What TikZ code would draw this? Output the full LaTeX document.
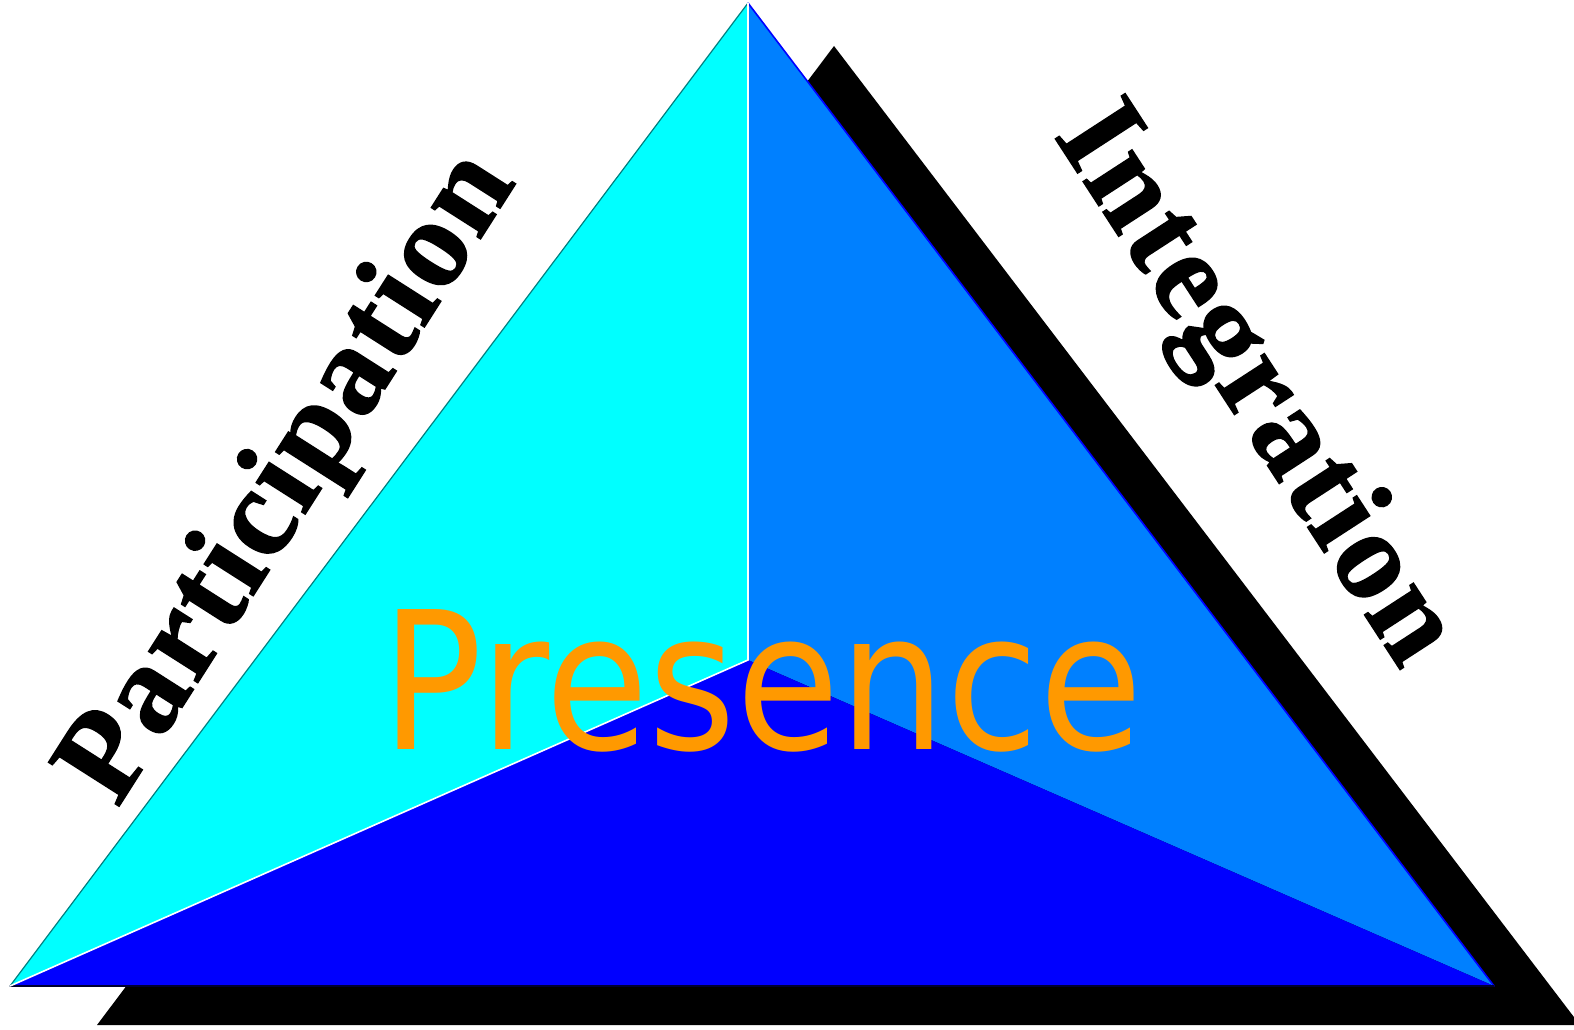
\documentclass[tikz,border=0pt]{standalone}
\usepackage{fontspec}
\setmainfont{Liberation Serif}
\newfontfamily\sidefont{Liberation Serif}[BoldFont={Liberation Serif Bold}, BoldFeatures={FakeBold=1.1, LetterSpace=2}]
\newfontfamily\presfont{DejaVu Sans}

\definecolor{facecyan}{RGB}{0,255,255}
\definecolor{faceazure}{RGB}{0,128,255}
\definecolor{faceblue}{RGB}{0,0,255}
\definecolor{edgeteal}{RGB}{0,128,128}
\definecolor{presorange}{RGB}{255,153,0}

\begin{document}
\begin{tikzpicture}[x=1pt, y=-1pt,
  face/.style={draw=none},
  edge/.style={line width=1.6pt, line cap=round},
  sidelbl/.style={font=\sidefont\bfseries\fontsize{127}{127}\selectfont, inner sep=0pt},
  mainlbl/.style={font=\fontsize{192}{192}\selectfont\presfont, text=presorange,
                  inner sep=0pt, xscale=0.876, transform shape}]

  \useasboundingbox (0,0) rectangle (1574,1030);

  % corners of the pyramid and of its shadow
  \coordinate (apex) at (748,3);
  \coordinate (left) at (10,986);
  \coordinate (right) at (1494,986);
  \coordinate (mid) at (748,660);
  \coordinate (sapex) at (834,46);
  \coordinate (sleft) at (97,1025);
  \coordinate (sright) at (1580,1025);

  % shadow
  \fill[black] (sapex) -- (sleft) -- (sright) -- cycle;

  % the three faces
  \fill[face, facecyan] (apex) -- (left) -- (mid) -- cycle;
  \fill[face, faceazure] (apex) -- (mid) -- (right) -- cycle;
  \fill[face, faceblue] (left) -- (right) -- (mid) -- cycle;

  % edges
  \draw[edge, edgeteal, line width=1.2pt] (apex) -- (left);
  \draw[edge, faceblue] (apex) -- (right);
  \draw[edge, black!80!blue, line width=1.2pt] (left) -- (right);
  \draw[edge, white] (apex) -- (mid);
  \draw[edge, white] (mid) -- (left);

  % labels
  \node[sidelbl, rotate=57.5] (part) at (292,478) {\textbf{Participation}};
  \node[sidelbl, rotate=-57] (integ) at (1253,388) {\textbf{Integration}};
  \node[mainlbl, anchor=base] (pres) at (762,749) {Presence};
\end{tikzpicture}
\end{document}
